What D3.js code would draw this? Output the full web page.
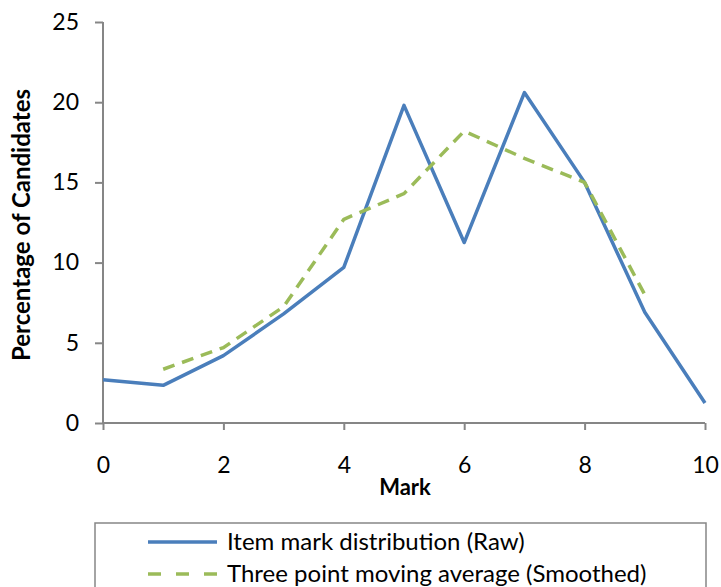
<!DOCTYPE html>
<html><head><meta charset="utf-8">
<script src="https://cdn.jsdelivr.net/npm/d3@7"></script>
<style>body{margin:0;background:#fff}svg{display:block}text{font-family:Lato,"Open Sans",sans-serif}</style>
</head><body><svg id="c" width="721" height="587"></svg>
<script>
const marks = [0,1,2,3,4,5,6,7,8,9,10];
const rawValues = [2.7,2.35,4.2,6.8,9.7,19.8,11.25,20.6,15.0,6.9,1.25];
const smoothMarks = [1,2,3,4,5,6,7,8,9];
const smoothValues = [3.35,4.7,7.25,12.7,14.3,18.2,16.5,15.0,8.0];
const xTicks = [0,2,4,6,8,10];
const yTicks = [0,5,10,15,20,25];
const seriesNames = ["Item mark distribution (Raw)","Three point moving average (Smoothed)"];
const colors = ["#4a7ebb","#9bbb59"];

const svg = d3.select("#c");
const x = d3.scaleLinear().domain([0,10]).range([103,705]);
const y = d3.scaleLinear().domain([0,25]).range([423,22]);
const axisColor = "#868686";

const ya = svg.append("g").attr("transform","translate(103,0)")
  .call(d3.axisLeft(y).tickValues(yTicks).tickSize(8).tickPadding(16).tickFormat(d3.format("d")));
const xa = svg.append("g").attr("transform","translate(0,423)")
  .call(d3.axisBottom(x).tickValues(xTicks).tickSize(7).tickPadding(27).tickFormat(d3.format("d")));
[ya,xa].forEach(a=>{
  a.selectAll("path,line").attr("stroke",axisColor).attr("stroke-width",2);
  a.selectAll("text").attr("fill","#000").style("font-size","23px").style("font-family","Lato");
});
ya.select(".domain").attr("d","M0,22V423");
xa.select(".domain").attr("d","M103,0H705");

const line = d3.line().x(d=>x(d[0])).y(d=>y(d[1]));
svg.append("path").datum(marks.map((m,i)=>[m,rawValues[i]]))
  .attr("d",line).attr("fill","none").attr("stroke",colors[0]).attr("stroke-width",3.5).attr("stroke-linejoin","round");
svg.append("path").datum(smoothMarks.map((m,i)=>[m,smoothValues[i]]))
  .attr("d",line).attr("fill","none").attr("stroke",colors[1]).attr("stroke-width",3.5).attr("stroke-dasharray","12,8");

svg.append("text").attr("x",405).attr("y",495).attr("text-anchor","middle")
  .style("font-size","22px").style("font-weight","bold").text("Mark");
svg.append("text").attr("transform","translate(30,225) rotate(-90)").attr("text-anchor","middle")
  .style("font-size","24px").style("font-weight","bold").text("Percentage of Candidates");

// legend
svg.append("rect").attr("x",95).attr("y",523).attr("width",611).attr("height",80)
  .attr("fill","#fff").attr("stroke",axisColor).attr("stroke-width",1.5);
const lg = svg.append("g");
seriesNames.forEach((n,i)=>{
  const yy = 542 + i*32;
  lg.append("line").attr("x1",148).attr("x2",217).attr("y1",yy).attr("y2",yy)
    .attr("stroke",colors[i]).attr("stroke-width",3.5).attr("stroke-dasharray",i?"13,15":null);
  lg.append("text").attr("x",227).attr("y",yy).attr("dy","0.35em").style("font-size","24px").text(n);
});
</script></body></html>
